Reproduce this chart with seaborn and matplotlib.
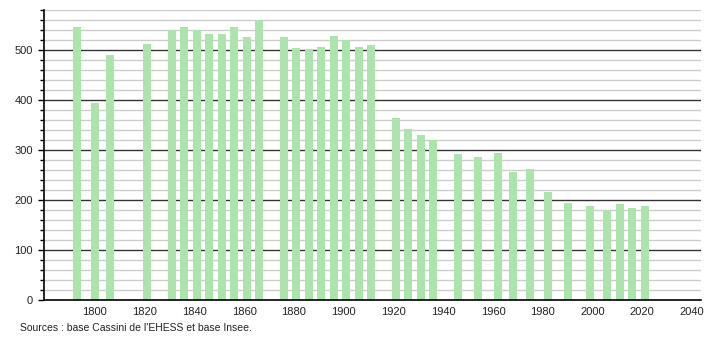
import matplotlib
matplotlib.use("Agg")
import matplotlib.pyplot as plt
from matplotlib.ticker import MultipleLocator
import seaborn as sns
import pandas as pd

years = [1793, 1800, 1806, 1821, 1831, 1836, 1841, 1846, 1851, 1856, 1861, 1866,
         1876, 1881, 1886, 1891, 1896, 1901, 1906, 1911,
         1921, 1926, 1931, 1936, 1946, 1954, 1962, 1968, 1975, 1982, 1990,
         1999, 2006, 2011, 2016, 2021]
population = [545, 395, 490, 512, 540, 545, 539, 532, 532, 545, 526, 560,
              525, 503, 502, 505, 528, 520, 505, 510,
              364, 342, 330, 321, 292, 286, 294, 256, 262, 216, 194,
              188, 181, 192, 184, 189]
x_ticks = [1800, 1820, 1840, 1860, 1880, 1900, 1920, 1940, 1960, 1980, 2000, 2020, 2040]
source_text = "Sources : base Cassini de l'EHESS et base Insee."

df = pd.DataFrame({"year": years, "pop": population})

sns.set_style("white")
plt.rcParams["font.family"] = ["Liberation Sans", "DejaVu Sans"]

fig = plt.figure(figsize=(7.1, 3.4), dpi=100)
ax = fig.add_axes([0.062, 0.1176, 0.925, 0.853])

# grid lines
for v in range(20, 600, 20):
    if v % 100 == 0:
        ax.axhline(v, color="#333333", lw=1.0, zorder=0)
    else:
        ax.axhline(v, color="#cccccc", lw=1.0, zorder=0)

sns.barplot(data=df, x="year", y="pop", native_scale=True, width=0.64,
            color="#ade3ad", saturation=1, ax=ax, zorder=2, errorbar=None,
            linewidth=0, edgecolor="none")

ax.set_xlim(1779.6, 2043.5)
ax.set_ylim(0, 580)
ax.set_xticks(x_ticks)
ax.set_xticklabels([str(t) for t in x_ticks])
ax.yaxis.set_major_locator(MultipleLocator(100))
ax.yaxis.set_minor_locator(MultipleLocator(20))
ax.set_xlabel("")
ax.set_ylabel("")

for s in ["top", "right"]:
    ax.spines[s].set_visible(False)
ax.spines["left"].set_color("#000000")
ax.spines["left"].set_linewidth(1.2)
ax.spines["bottom"].set_color("#000000")
ax.spines["bottom"].set_linewidth(1.2)

ax.tick_params(axis="y", which="major", length=4, width=1, color="#000000",
               labelsize=8, labelcolor="#222222", pad=4, left=True)
ax.tick_params(axis="y", which="minor", length=3, width=1, color="#000000", left=True)
ax.tick_params(axis="x", which="both", length=0, labelsize=8,
               labelcolor="#222222", pad=5)

fig.text(0.028, 0.035, source_text, fontsize=7.5, color="#222222", ha="left", va="center")

fig.savefig("out.png", dpi=100)
